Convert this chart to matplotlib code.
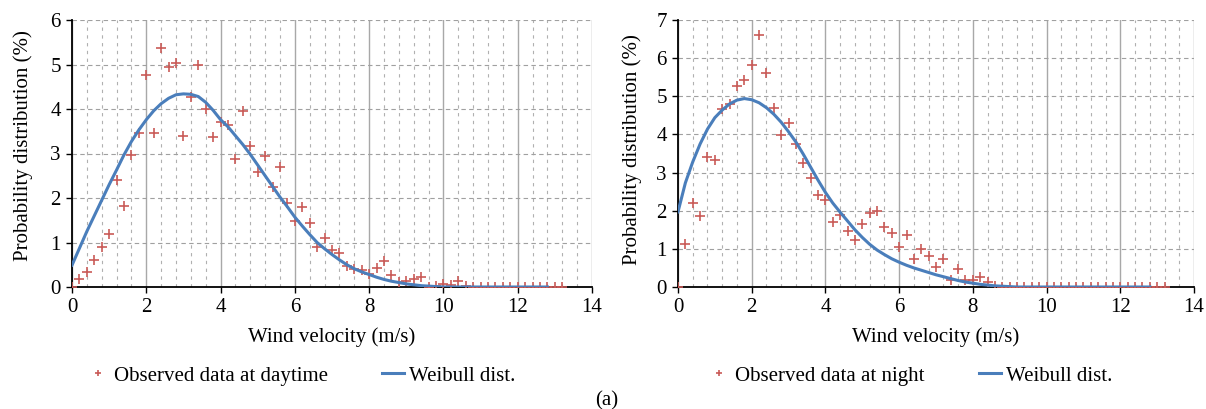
import matplotlib
matplotlib.use("Agg")
import matplotlib.pyplot as plt
import numpy as np
from matplotlib.ticker import MultipleLocator

plt.rcParams['font.family'] = ['Liberation Serif', 'DejaVu Serif']

# observed data, 0.2 m/s bins
vel = np.round(np.arange(0, 13.21, 0.2), 1)
dia = [0, 0.17, 0.33, 0.6, 0.89, 1.19, 2.4, 1.81, 2.97, 3.47,
       4.76, 3.45, 5.36, 4.95, 5.04, 3.4, 4.27, 4.99, 3.99, 3.36,
       3.7, 3.64, 2.88, 3.95, 3.17, 2.59, 2.94, 2.25, 2.69, 1.89,
       1.48, 1.8, 1.43, 0.89, 1.1, 0.84, 0.76, 0.47, 0.4, 0.39,
       0.3, 0.43, 0.58, 0.28, 0.12, 0.13, 0.18, 0.22, 0.0, 0.02,
       0.07, 0.04, 0.14, 0.03, 0.01, 0.01, 0.0, 0.01, 0.0, 0.01,
       0.0, 0.01, 0.0, 0.0, 0.01, 0.0, 0.0]
noite = [0, 1.12, 2.2, 1.86, 3.41, 3.33, 4.66, 4.81, 5.28, 5.42,
         5.82, 6.61, 5.6, 4.7, 3.98, 4.29, 3.76, 3.24, 2.85, 2.41,
         2.28, 1.71, 1.88, 1.47, 1.22, 1.64, 1.93, 2.0, 1.58, 1.42,
         1.04, 1.36, 0.73, 1.0, 0.8, 0.52, 0.73, 0.19, 0.48, 0.19,
         0.19, 0.25, 0.12, 0.03, 0.01, 0.01, 0.0, 0.01, 0.0, 0.01,
         0.0, 0.01, 0.0, 0.0, 0.01, 0.0, 0.0, 0.01, 0.0, 0.0,
         0.01, 0.0, 0.0, 0.0, 0.0, 0.0, 0.0]

# weibull curves
vel_w = np.round(np.arange(0, 12.81, 0.2), 1)
weib_dia = [0.49, 0.87, 1.25, 1.6, 1.95, 2.3, 2.63, 2.97, 3.27, 3.53,
            3.76, 3.96, 4.12, 4.24, 4.32, 4.34, 4.33, 4.28, 4.15, 3.97,
            3.76, 3.6, 3.4, 3.2, 2.98, 2.74, 2.5, 2.26, 2.02, 1.8,
            1.57, 1.37, 1.18, 1.0, 0.86, 0.73, 0.61, 0.5, 0.41, 0.34,
            0.28, 0.22, 0.17, 0.13, 0.1, 0.07, 0.05, 0.03, 0.02, 0.01,
            0, 0, 0, 0, 0, 0, 0, 0, 0, 0, 0, 0, 0, 0, 0]
weib_noite = [1.97, 2.73, 3.28, 3.75, 4.14, 4.44, 4.64, 4.8, 4.9, 4.94,
              4.91, 4.83, 4.7, 4.53, 4.32, 4.07, 3.8, 3.48, 3.14, 2.8,
              2.48, 2.2, 1.96, 1.73, 1.5, 1.3, 1.12, 0.97, 0.85, 0.74,
              0.65, 0.57, 0.5, 0.44, 0.38, 0.32, 0.27, 0.22, 0.17, 0.13,
              0.1, 0.07, 0.05, 0.03, 0.02, 0.01,
              0, 0, 0, 0, 0, 0, 0, 0, 0, 0, 0, 0, 0, 0, 0, 0, 0, 0, 0]

vermelho = '#C95B58'
azul = '#4A7EBB'
W, H = 1206, 409

fig = plt.figure(figsize=(W / 100, H / 100), dpi=100)


def grafico(rect, obs, weib, ymax, rotulo, ylab_x, ylab_y, leg_x):
    ax = fig.add_axes(rect)
    ax.plot(vel, obs, ls='none', marker='+', ms=6.5, mew=1.2, color=vermelho,
            label=rotulo, zorder=3)
    ax.plot(vel_w, weib, color=azul, lw=2.2, label='Weibull dist.', zorder=4)
    ax.set_xlim(0, 14)
    ax.set_ylim(0, ymax)
    ax.xaxis.set_major_locator(MultipleLocator(2))
    ax.xaxis.set_minor_locator(MultipleLocator(0.4))
    ax.yaxis.set_major_locator(MultipleLocator(1))
    ax.grid(which='major', axis='x', color='#A8A8A8', lw=1.0, ls='-')
    ax.grid(which='minor', axis='x', color='#B0B0B0', lw=0.8, ls=(0, (3, 4)))
    ax.grid(which='major', axis='y', color='#A0A0A0', lw=0.8, ls=(0, (4, 3)))
    ax.set_axisbelow(True)
    for s in ['top', 'right']:
        ax.spines[s].set_visible(False)
    for s in ['left', 'bottom']:
        ax.spines[s].set_linewidth(1.3)
    ax.tick_params(which='major', length=4, width=1, labelsize=15, pad=4)
    ax.tick_params(which='minor', length=0)
    ax.set_xlabel('Wind velocity (m/s)', fontsize=15, labelpad=7)
    fig.text(ylab_x / W, 1 - ylab_y / H, 'Probability distribution (%)',
             rotation=90, ha='center', va='center', fontsize=15)
    ax.legend(loc='center left', bbox_to_anchor=(leg_x, -0.333), ncol=2,
              frameon=False, fontsize=15, borderpad=0, borderaxespad=0,
              handlelength=1.05, handletextpad=0.25, columnspacing=2.6,
              markerscale=0.75)
    return ax


grafico([72 / W, 1 - 287 / H, 520 / W, 267 / H], dia, weib_dia, 6,
        'Observed data at daytime', 23, 146, 0.029)
grafico([678 / W, 1 - 287 / H, 516 / W, 267 / H], noite, weib_noite, 7,
        'Observed data at night', 632, 150, 0.058)

fig.text(607 / W, 1 - 401 / H, '(a)', ha='center', va='center', fontsize=15)

fig.savefig('out.png', dpi=100)
